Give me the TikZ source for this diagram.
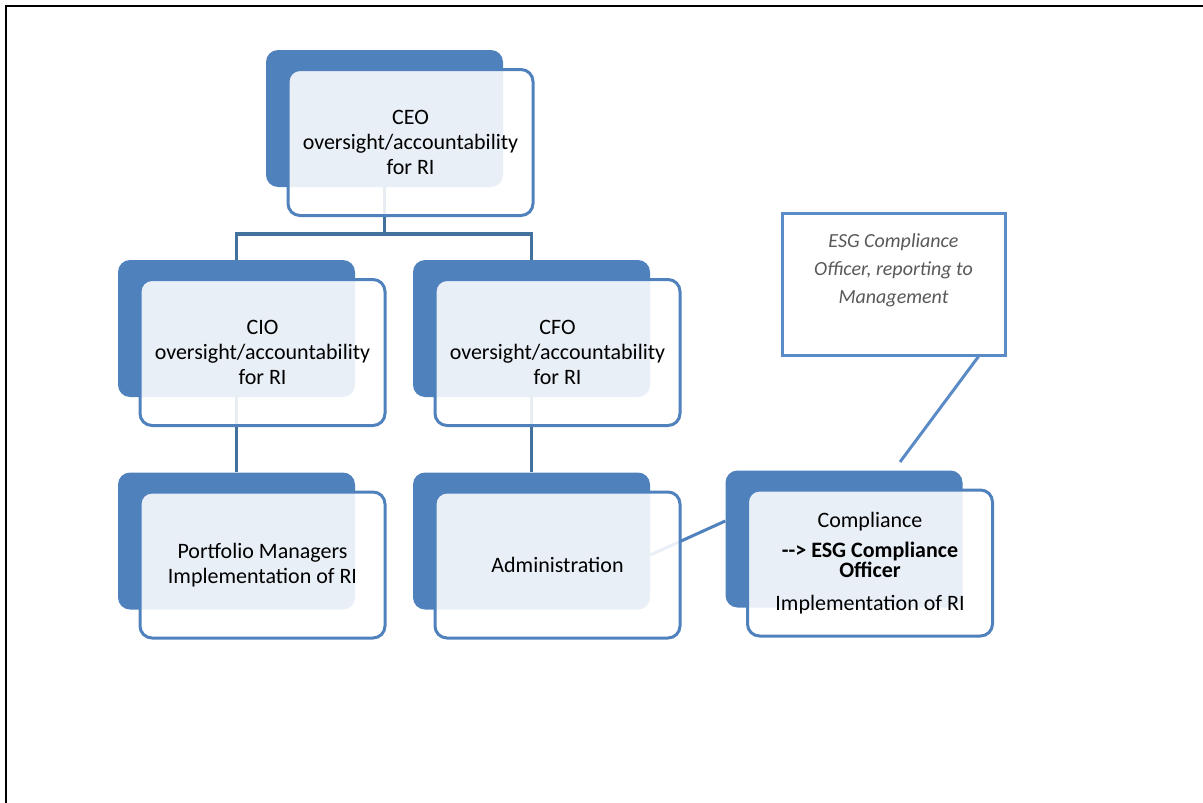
\documentclass[tikz,border=0pt]{standalone}
\usepackage{fontspec}
\setmainfont{Carlito}
\usetikzlibrary{positioning}
\definecolor{smartblue}{HTML}{4F81BD}
\definecolor{linkblue}{HTML}{41719C}
\definecolor{noteblue}{HTML}{5B8BC6}
\definecolor{notegray}{HTML}{595959}
\tikzset{
  backbox/.style={rectangle, rounded corners=12pt, fill=smartblue,
    minimum width=237pt, minimum height=137pt},
  frontbox/.style={rectangle, rounded corners=12pt, draw=smartblue, line width=3pt,
    fill=white, fill opacity=0.88, text opacity=1,
    minimum width=245pt, minimum height=146pt, align=center,
    font=\fontsize{22}{25}\selectfont, xshift=26pt, yshift=-24pt},
  link/.style={draw=linkblue, line width=3.5pt},
  notebox/.style={rectangle, draw=noteblue, line width=3pt, fill=white,
    minimum width=223pt, minimum height=142pt, align=center, text depth=31pt,
    text=notegray, font=\fontsize{20}{28}\selectfont\itshape},
  notelink/.style={draw=noteblue, line width=3pt}
}
\begin{document}
\begin{tikzpicture}[x=1pt, y=-1pt]
    \useasboundingbox (0,0) rectangle (1203,803);
    \draw[line width=2pt] (6,803) -- (6,6) -- (1203,6);

    % dark back plates
    \node[backbox] (ceoB) at (384.5,118.5) {};
    \node[backbox] (cioB) at (236.5,328.5) {};
    \node[backbox] (cfoB) at (531.5,328.5) {};
    \node[backbox] (pmB) at (236.5,541) {};
    \node[backbox] (admB) at (531.5,541) {};
    \node[backbox] (compB) at (844,539) {};

    % tree lines
    \coordinate (split) at (384.5,234);
    \draw[link] (ceoB.south) -- (split);
    \draw[link] (cioB.north) |- (split) -| (cfoB.north);
    \draw[link] (cioB.south) -- (pmB.north);
    \draw[link] (cfoB.south) -- (admB.north);
    \draw[link, draw=smartblue, line width=3pt]
        ([yshift=-14pt]admB.east) -- ([yshift=18pt]compB.west);

    % front cards
    \node[frontbox] (ceo) at (ceoB) {CEO\\oversight/accountability\\for RI};
    \node[frontbox] (cio) at (cioB) {CIO\\oversight/accountability\\for RI};
    \node[frontbox] (cfo) at (cfoB) {CFO\\oversight/accountability\\for RI};
    \node[frontbox] (pm) at (pmB) {Portfolio Managers\\Implementation of RI};
    \node[frontbox] (adm) at (admB) {Administration};
    \node[frontbox] (comp) at (compB) {Compliance\\[5pt]
        \textbf{-{}-> ESG Compliance}\\[-5pt]\textbf{Officer}\\[8pt]
        Implementation of RI};

    % note
    \node[notebox] (esgnote) at (893.5,284)
        {ESG Compliance\\Officer, reporting to\\Management};
    \coordinate (noteend) at (900,462);
    \draw[notelink] ([xshift=-28pt]esgnote.south east) -- (noteend);
\end{tikzpicture}
\end{document}
